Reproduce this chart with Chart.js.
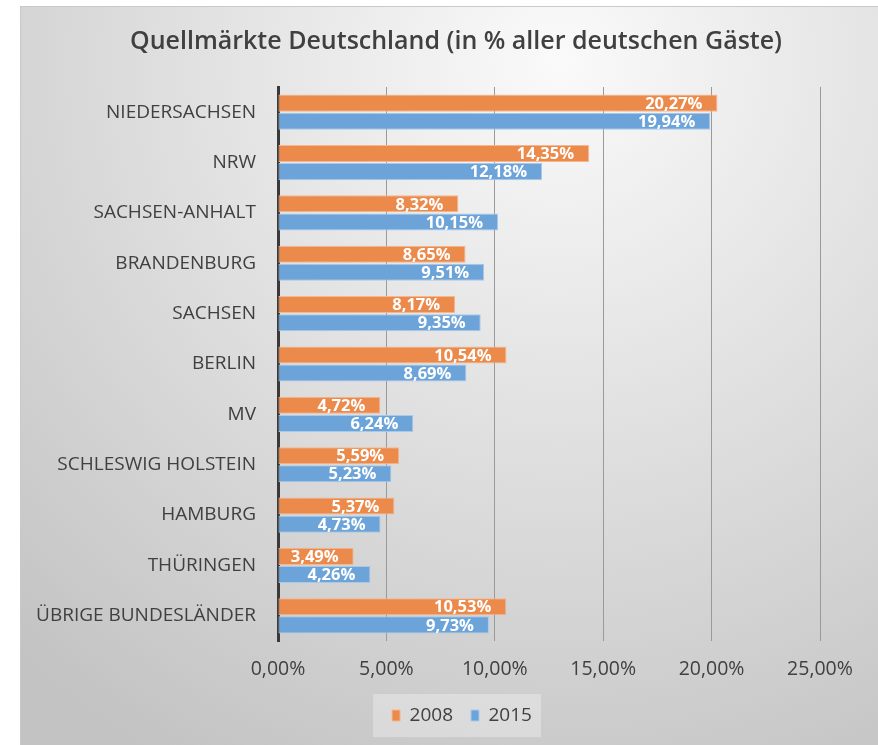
<!DOCTYPE html>
<html>
<head>
<meta charset="utf-8">
<script src="https://cdn.jsdelivr.net/npm/chart.js@4.4.1/dist/chart.umd.min.js"></script>
<style>
  html, body { margin: 0; padding: 0; background: #fff; }
  #wrap { width: 878px; height: 745px; position: relative; }
</style>
</head>
<body>
<div id="wrap"><canvas id="quellmaerkte"></canvas></div>
<script>
const regions = ['NIEDERSACHSEN', 'NRW', 'SACHSEN-ANHALT', 'BRANDENBURG', 'SACHSEN', 'BERLIN', 'MV',
  'SCHLESWIG HOLSTEIN', 'HAMBURG', 'THÜRINGEN', 'ÜBRIGE BUNDESLÄNDER']
const values2008 = [20.27, 14.35, 8.32, 8.65, 8.17, 10.54, 4.72, 5.59, 5.37, 3.49, 10.53]
const values2015 = [19.94, 12.18, 10.15, 9.51, 9.35, 8.69, 6.24, 5.23, 4.73, 4.26, 9.73]
const xTicks = [0, 5, 10, 15, 20, 25]

const FONT = '"Open Sans", Lato, sans-serif'
const pct = v => v.toFixed(2).replace('.', ',') + '%'

// grey frame with the soft radial light, like the excel chart
const frameBg = {
  id: 'frameBg',
  afterLayout(chart) {
    // excel centres title and legend further right than chart.js does
    chart.titleBlock.left += 36
    chart.titleBlock.right += 36
    chart.legend.left += 42
    chart.legend.right += 42
  },
  beforeDraw(chart) {
    const ctx = chart.ctx
    ctx.save()
    const g = ctx.createRadialGradient(560, 60, 0, 560, 60, 800)
    g.addColorStop(0, '#fafafa')
    g.addColorStop(1, '#c3c3c3')
    ctx.fillStyle = g
    ctx.fillRect(20, 6, 858, 739)
    ctx.strokeStyle = '#c9c9c9'
    ctx.lineWidth = 1
    ctx.strokeRect(20.5, 6.5, 858, 739)
    // legend box
    const boxes = chart.legend && chart.legend.legendHitBoxes
    if (boxes && boxes.length) {
      const l = Math.min(...boxes.map(b => b.left)) - 19
      const r = Math.max(...boxes.map(b => b.left + b.width)) + 9
      const t = Math.min(...boxes.map(b => b.top)) - 12
      const bt = Math.max(...boxes.map(b => b.top + b.height)) + 12
      ctx.fillStyle = 'rgba(255,255,255,0.3)'
      ctx.fillRect(l, t, r - l, bt - t)
    }
    ctx.restore()
  }
}

// white values inside the bar ends
const barValues = {
  id: 'barValues',
  afterDatasetsDraw(chart) {
    const ctx = chart.ctx
    ctx.save()
    ctx.font = 'bold 16.5px ' + FONT
    ctx.fillStyle = '#ffffff'
    ctx.textAlign = 'right'
    ctx.textBaseline = 'middle'
    chart.data.datasets.forEach((ds, i) => {
      chart.getDatasetMeta(i).data.forEach((bar, j) => {
        ctx.fillText(pct(ds.data[j]), bar.x - 15, bar.y + 1)
      })
    })
    ctx.restore()
  }
}

new Chart(document.getElementById('quellmaerkte'), {
  type: 'bar',
  data: {
    labels: regions,
    datasets: [
      { label: '2008', data: values2008, backgroundColor: '#ec8a4b', borderColor: '#f6b78e', borderWidth: 1, borderSkipped: false },
      { label: '2015', data: values2015, backgroundColor: '#6ca4d9', borderColor: '#a8c9ea', borderWidth: 1, borderSkipped: false }
    ]
  },
  options: {
    indexAxis: 'y',
    responsive: true,
    maintainAspectRatio: false,
    animation: false,
    layout: { padding: { left: 20, right: 58, top: 6, bottom: 10 } },
    datasets: { bar: { categoryPercentage: 0.72, barPercentage: 0.94 } },
    scales: {
      x: {
        min: 0, max: 25,
        afterBuildTicks: s => { s.ticks = xTicks.map(v => ({ value: v })) },
        afterFit: s => { s.height = 47 },
        grid: { color: '#9a9a9a', lineWidth: 1, drawTicks: false },
        border: { display: false },
        ticks: { padding: 17, color: '#404040', font: { family: FONT, size: 19.5 }, callback: v => pct(v) }
      },
      y: {
        afterFit: s => { s.width = 258 },
        grid: { display: false, drawTicks: false },
        border: { display: true, color: '#3a3a3a', width: 3 },
        ticks: { padding: 22, color: '#404040', font: { family: FONT, size: 19 } }
      }
    },
    plugins: {
      title: {
        display: true,
        text: 'Quellmärkte Deutschland (in % aller deutschen Gäste)',
        color: '#404040',
        font: { family: FONT, size: 25, weight: '600' },
        padding: { top: 21, bottom: 30 }
      },
      legend: {
        position: 'bottom',
        labels: { color: '#404040', font: { family: FONT, size: 19 }, boxWidth: 8, boxHeight: 11, padding: 18 }
      },
      tooltip: { enabled: false }
    }
  },
  plugins: [frameBg, barValues]
})
</script>
</body>
</html>
